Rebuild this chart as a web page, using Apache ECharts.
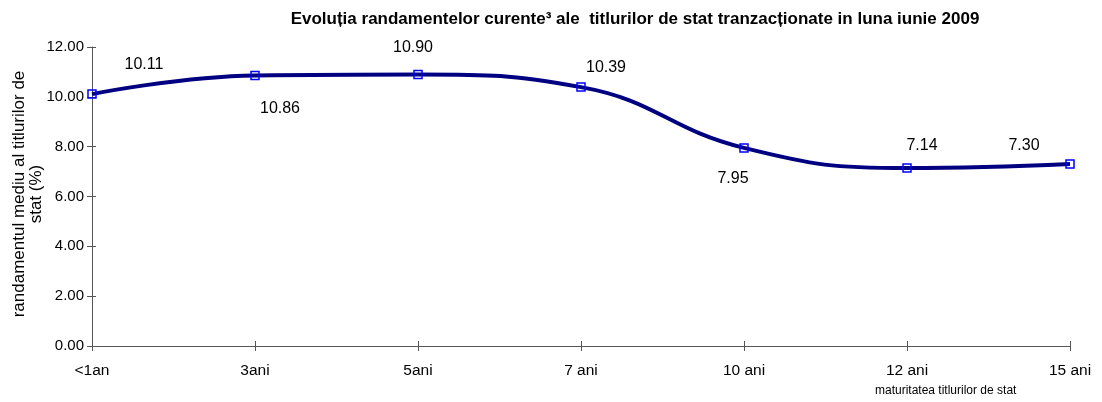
<!DOCTYPE html>
<html><head><meta charset="utf-8">
<script src="https://cdn.jsdelivr.net/npm/echarts@6/dist/echarts.min.js"></script>
<style>html,body{margin:0;padding:0;background:#fff}#c{width:1102px;height:402px}</style>
</head><body><div id="c"></div>
<script>
const categories = ['<1an', '3ani', '5ani', '7 ani', '10 ani', '12 ani', '15 ani'];
const yields = [10.11, 10.86, 10.90, 10.39, 7.95, 7.14, 7.30];
const yTicks = [0, 2, 4, 6, 8, 10, 12];
const yAxisTitle = 'randamentul mediu al titlurilor de\nstat (%)';
const xAxisTitle = 'maturitatea titlurilor de stat';

const labelOffsets = [[52, -29], [25, 33], [-5, -27], [25, -20], [-11, 31], [15, -23], [-46, -19]];
const font = 'Liberation Sans, Arial, sans-serif';
const axisColor = '#555';
const chart = echarts.init(document.getElementById('c'));
chart.setOption({
  animation: false,
  title: {
    text: 'Evoluția randamentelor curente³ ale  titlurilor de stat tranzacționate in luna iunie 2009',
    left: 630, textAlign: 'center', top: 6,
    textStyle: { fontFamily: font, fontSize: 17, fontWeight: 'bold', color: '#000' }
  },
  grid: { left: 92, right: 32, top: 47, bottom: 56, containLabel: false, outerBoundsMode: 'none' },
  xAxis: [{
    type: 'category', data: categories, boundaryGap: false,
    axisLine: { lineStyle: { color: axisColor, width: 1 } },
    axisTick: { show: true, alignWithLabel: true, length: 5, lineStyle: { color: axisColor } },
    axisLabel: { fontFamily: font, fontSize: 15.5, color: '#000', margin: 17 }
  }, {
    type: 'category', data: categories, boundaryGap: false, position: 'bottom',
    axisLine: { show: false },
    axisTick: { show: true, inside: true, alignWithLabel: true, length: 5, lineStyle: { color: axisColor } },
    axisLabel: { show: false }
  }],
  yAxis: [{
    type: 'value', min: yTicks[0], max: yTicks[yTicks.length - 1], interval: 2,
    axisLine: { show: true, lineStyle: { color: axisColor, width: 1 } },
    axisTick: { show: true, length: 5, lineStyle: { color: axisColor } },
    splitLine: { show: false },
    axisLabel: { fontFamily: font, fontSize: 15, color: '#000', margin: 8, formatter: v => v.toFixed(2) }
  }, {
    type: 'value', min: yTicks[0], max: yTicks[yTicks.length - 1], interval: 2, position: 'left',
    axisLine: { show: false },
    axisTick: { show: true, inside: true, length: 4, lineStyle: { color: axisColor } },
    splitLine: { show: false },
    axisLabel: { show: false }
  }],
  graphic: [{
    type: 'text', left: 875, top: 385,
    style: { text: xAxisTitle, font: '12px ' + font, fill: '#000' }
  }, {
    type: 'text', x: 28, y: 194, rotation: Math.PI / 2,
    style: { text: yAxisTitle, font: '17px ' + font, fill: '#000', lineHeight: 17,
             align: 'center', verticalAlign: 'middle' }
  }],
  series: [{
    type: 'line', smooth: 0.45,
    data: yields.map((v, i) => ({
      value: v,
      label: { offset: labelOffsets[i] }
    })),
    lineStyle: { color: '#000080', width: 4 },
    symbol: 'rect', symbolSize: 8,
    itemStyle: { color: 'rgba(0,0,0,0)', borderColor: '#0000ff', borderWidth: 1.5 },
    label: {
      show: true, position: 'inside', align: 'center', verticalAlign: 'middle',
      fontFamily: font, fontSize: 16, color: '#000',
      formatter: p => p.value.toFixed(2)
    },
    z: 3
  }]
});
</script></body></html>
